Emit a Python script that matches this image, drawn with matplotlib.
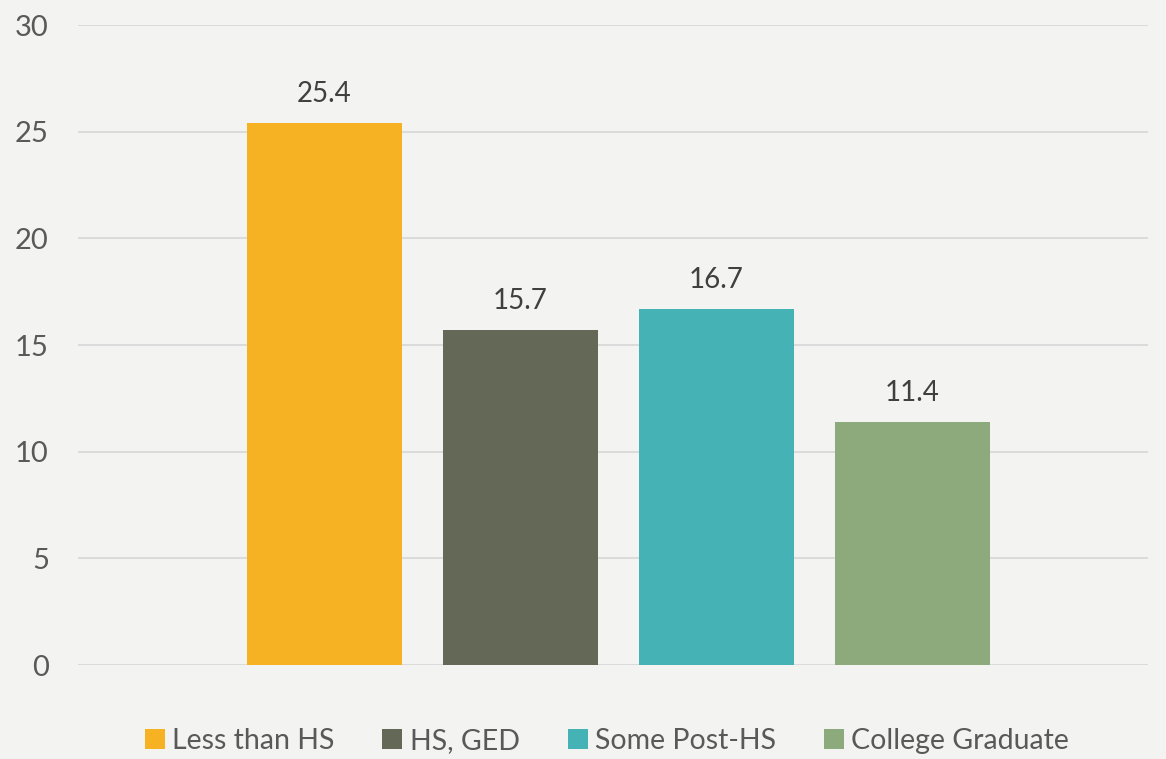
import numpy as np
import matplotlib.pyplot as plt

# --- Data ---
categories = ["Less than HS", "HS, GED", "Some Post-HS", "College Graduate"]
values = [25.4, 15.7, 16.7, 11.4]
colors = ["#F7B223", "#646957", "#45B2B5", "#8DAA7C"]
yticks = [0, 5, 10, 15, 20, 25, 30]

plt.rcParams["font.family"] = ["Lato", "DejaVu Sans"]

bg = "#F3F3F1"
fig = plt.figure(figsize=(11.66, 7.59), dpi=100, facecolor=bg)
ax = fig.add_axes([78 / 1166, 94 / 759, 1070 / 1166, 640 / 759], facecolor=bg)

x = np.arange(len(categories))
bars = ax.bar(x, values, width=0.79, color=colors, label=categories, zorder=3)

for xi, v in zip(x, values):
    ax.text(xi, v + 0.75, f"{v:.1f}", ha="center", va="bottom",
            fontsize=20, color="#404040")

ax.set_xlim(-1.255, 4.2)
ax.set_ylim(0, 30)
ax.set_yticks(yticks)
ax.set_xticks([])
ax.yaxis.grid(True, color="#D9D9D9", linewidth=1.3, zorder=0)
for s in ax.spines.values():
    s.set_visible(False)
ax.tick_params(axis="y", length=0, pad=21, labelsize=21, labelcolor="#595959")

leg = fig.legend(handles=bars, labels=categories, loc="center",
                 bbox_to_anchor=(607 / 1166, 1 - 741 / 759), ncol=4,
                 frameon=False, fontsize=20.5, handlelength=0.7, handleheight=0.7,
                 handletextpad=0.25, columnspacing=1.7, labelcolor="#595959")

fig.savefig("out.png", dpi=100, facecolor=bg)
